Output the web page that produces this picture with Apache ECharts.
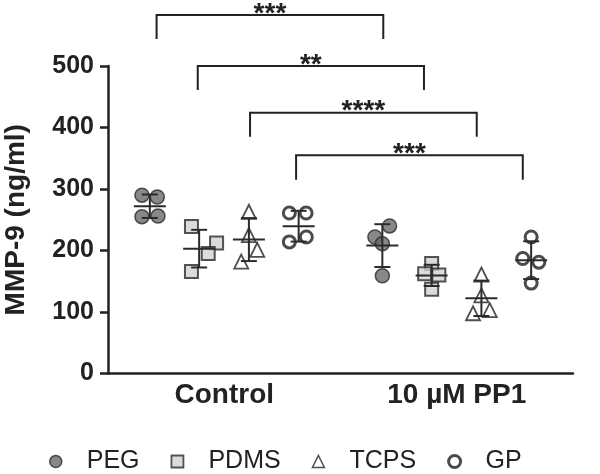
<!DOCTYPE html>
<html><head><meta charset="utf-8">
<script src="https://cdn.jsdelivr.net/npm/echarts@6/dist/echarts.min.js"></script>
<style>html,body{margin:0;padding:0;background:#fff}#c{width:600px;height:474px}</style>
</head><body><div id="c"></div>
<script>
// ---- data ----
const categories = ['Control', '10 µM PP1'];
const materials = ['PEG', 'PDMS', 'TCPS', 'GP'];
const yTicks = [0, 100, 200, 300, 400, 500];
// values per material: [Control points, PP1 points]
const pegValues  = [[290, 287, 255, 256], [240, 222, 211, 159]];
const pdmsValues = [[239, 212, 195, 166], [179, 162, 160, 137]];
const tcpsValues = [[263, 225, 201, 182], [161, 127, 103, 98]];
const gpValues   = [[261, 261, 214, 222], [222, 187, 181, 147]];
// horizontal scatter of the individual points inside each column
const pegJitter  = [[-0.034, 0.032, -0.034, 0.035], [0.031, -0.032, 0, 0]];
const pdmsJitter = [[-0.033, 0.075, 0.039, -0.033], [0, -0.03, 0.031, 0]];
const tcpsJitter = [[0, 0, 0.036, -0.033], [0, 0, 0.036, -0.036]];
const gpJitter   = [[-0.04, 0.032, -0.04, 0.033], [0, -0.036, 0.033, 0]];
// column position of each material inside a category
const materialOffset = [-0.32, -0.108, 0.106, 0.32];
// significance brackets
const bracketFrom  = [0.209, 0.386, 0.611, 0.809];
const bracketTo    = [1.184, 1.359, 1.586, 1.784];
const bracketTop   = [583, 500, 424, 355];
const bracketLeg   = [544, 461, 385, 315];
const bracketStars = ['***', '**', '****', '***'];

// ---- build ----
const FONT = "'Liberation Sans', Arial, Helvetica, sans-serif";
const INK = '#222';
const allValues = [pegValues, pdmsValues, tcpsValues, gpValues];
const allJitter = [pegJitter, pdmsJitter, tcpsJitter, gpJitter];
const styles = [
  {symbol: 'circle', symbolSize: 14, itemStyle: {color: '#6a6a6a', borderColor: '#2b2b2b', borderWidth: 1.5}},
  {symbol: 'rect', symbolSize: 13, itemStyle: {color: '#d2d2d2', borderColor: '#2b2b2b', borderWidth: 2}},
  {symbol: 'triangle', symbolSize: 14, itemStyle: {color: '#ffffff', borderColor: '#222', borderWidth: 1.8}},
  {symbol: 'circle', symbolSize: 12, itemStyle: {color: '#ffffff', borderColor: '#1e1e1e', borderWidth: 3}}
];
const legendBorder = [1.5, 1.8, 1.5, 3];

function mean(a) { return a.reduce((s, v) => s + v, 0) / a.length; }
function sd(a) { const m = mean(a); return Math.sqrt(a.reduce((s, v) => s + (v - m) * (v - m), 0) / (a.length - 1)); }

const series = [];
const errData = [];
materials.forEach((name, mi) => {
  const pts = [];
  categories.forEach((cat, ci) => {
    const cx = ci + 0.5 + materialOffset[mi];
    allValues[mi][ci].forEach((v, k) => pts.push([cx + allJitter[mi][ci][k], v]));
    errData.push([cx, mean(allValues[mi][ci]), sd(allValues[mi][ci])]);
  });
  series.push(Object.assign({
    name: name, type: 'scatter', xAxisIndex: 1, yAxisIndex: 0, data: pts, z: 3,
    emphasis: {disabled: true}
  }, styles[mi]));
});

series.push({
  type: 'custom', xAxisIndex: 1, yAxisIndex: 0, z: 5, clip: false,
  data: errData, encode: {x: 0, y: 1}, silent: true,
  renderItem: function (params, api) {
    const x = api.value(0), m = api.value(1), s = api.value(2);
    const c = api.coord([x, m]);
    const t = api.coord([x, m + s]);
    const b = api.coord([x, m - s]);
    const st = {stroke: '#2b2b2b', lineWidth: 2};
    return {type: 'group', children: [
      {type: 'line', shape: {x1: c[0], y1: t[1], x2: c[0], y2: b[1]}, style: st},
      {type: 'line', shape: {x1: c[0] - 8, y1: t[1], x2: c[0] + 8, y2: t[1]}, style: st},
      {type: 'line', shape: {x1: c[0] - 8, y1: b[1], x2: c[0] + 8, y2: b[1]}, style: st},
      {type: 'line', shape: {x1: c[0] - 16, y1: c[1], x2: c[0] + 16, y2: c[1]}, style: st}
    ]};
  }
});

const bracketData = bracketFrom.map((f, i) => [f, bracketTo[i], bracketTop[i], bracketLeg[i]]);
series.push({
  type: 'custom', xAxisIndex: 1, yAxisIndex: 0, z: 5, clip: false, silent: true,
  data: bracketData, encode: {x: 0, y: 2},
  renderItem: function (params, api) {
    const f = api.value(0), t = api.value(1), top = api.value(2), leg = api.value(3);
    const p1 = api.coord([f, leg]), p2 = api.coord([f, top]), p3 = api.coord([t, top]), p4 = api.coord([t, leg]);
    return {type: 'group', children: [
      {type: 'polyline', shape: {points: [p1, p2, p3, p4]}, style: {stroke: INK, lineWidth: 2, fill: null}},
      {type: 'text', x: (p2[0] + p3[0]) / 2, y: p2[1] - 1,
       style: {text: bracketStars[params.dataIndex], fill: INK, font: 'bold 28px ' + FONT,
               textAlign: 'center', textVerticalAlign: 'middle'}}
    ]};
  }
});

const chart = echarts.init(document.getElementById('c'), null, {renderer: 'canvas'});
chart.setOption({
  animation: false,
  backgroundColor: '#ffffff',
  textStyle: {fontFamily: FONT},
  grid: {left: 108, right: 27, top: 66, bottom: 100.5, containLabel: false, outerBoundsMode: 'none'},
  legend: {
    data: materials.map((m, i) => ({name: m, itemStyle: {borderWidth: legendBorder[i]}})),
    left: 49, top: 449, padding: 0, width: 560,
    itemWidth: 12, itemHeight: 12, itemGap: 31, selectedMode: false,
    textStyle: {fontSize: 25, color: INK, fontFamily: FONT, padding: [0, 0, 0, 20]}
  },
  xAxis: [
    {type: 'category', data: categories, boundaryGap: true,
     axisLine: {lineStyle: {color: INK, width: 2.5}},
     axisTick: {alignWithLabel: true, length: 8, lineStyle: {color: INK, width: 2.5}},
     axisLabel: {fontSize: 28, fontWeight: 'bold', color: INK, margin: 8, fontFamily: FONT},
     splitLine: {show: false}},
    {type: 'value', min: 0, max: 2, show: false}
  ],
  yAxis: {
    type: 'value', min: yTicks[0], max: yTicks[yTicks.length - 1], interval: 100,
    name: 'MMP-9 (ng/ml)', nameLocation: 'middle', nameGap: 78,
    nameTextStyle: {fontSize: 28, fontWeight: 'bold', color: INK, fontFamily: FONT},
    axisLine: {show: true, lineStyle: {color: INK, width: 2.5}},
    axisTick: {show: true, length: 8, lineStyle: {color: INK, width: 2.5}},
    axisLabel: {fontSize: 25, fontWeight: 'bold', color: INK, margin: 14, fontFamily: FONT},
    splitLine: {show: false}
  },
  series: series
});
</script>
</body></html>
